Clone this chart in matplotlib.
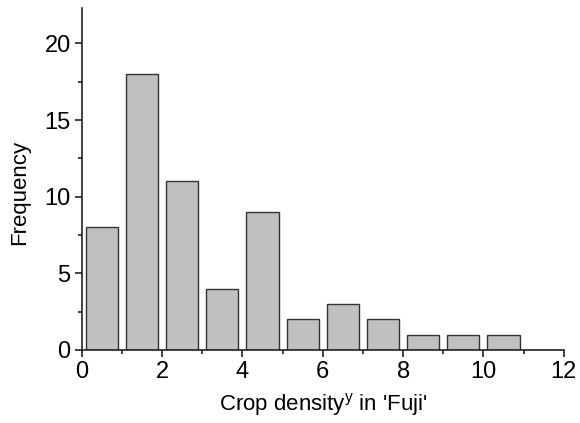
import matplotlib
matplotlib.use("Agg")
import matplotlib.pyplot as plt
from matplotlib.ticker import MultipleLocator

# histogram of crop density, one bar per unit bin
bin_left = [0, 1, 2, 3, 4, 5, 6, 7, 8, 9, 10]
counts = [8, 18, 11, 4, 9, 2, 3, 2, 1, 1, 1]

plt.rcParams['font.family'] = ['Liberation Sans', 'DejaVu Sans']
plt.rcParams['mathtext.fontset'] = 'custom'
plt.rcParams['mathtext.rm'] = 'Liberation Sans'
plt.rcParams['mathtext.it'] = 'Liberation Sans'

fig = plt.figure(figsize=(5.8, 4.23), dpi=100)
ax = fig.add_axes([0.141, 0.1726, 0.831, 0.808])

centers = [b + 0.5 for b in bin_left]
ax.bar(centers, counts, width=0.8, color='#c0c0c0', edgecolor='#333333', linewidth=1.0)

ax.set_xlim(0, 12)
ax.set_ylim(0, 22.3)
ax.xaxis.set_major_locator(MultipleLocator(2))
ax.xaxis.set_minor_locator(MultipleLocator(1))
ax.yaxis.set_major_locator(MultipleLocator(5))
ax.yaxis.set_minor_locator(MultipleLocator(2.5))

for s in ['top', 'right']:
    ax.spines[s].set_visible(False)
for s in ['left', 'bottom']:
    ax.spines[s].set_linewidth(1.2)
    ax.spines[s].set_color('#222222')

ax.tick_params(which='major', direction='out', length=5, width=1.2, labelsize=17, colors='#222222', labelcolor='black', pad=3)
ax.tick_params(which='minor', direction='out', length=3, width=1.2, colors='#222222')

ax.set_xlabel("Crop density$^{\\mathrm{y}}$ in 'Fuji'", fontsize=16, labelpad=6)
ax.set_ylabel("Frequency", fontsize=16)
ax.yaxis.set_label_coords(-0.108, 0.46)

fig.savefig("out.png", dpi=100)
